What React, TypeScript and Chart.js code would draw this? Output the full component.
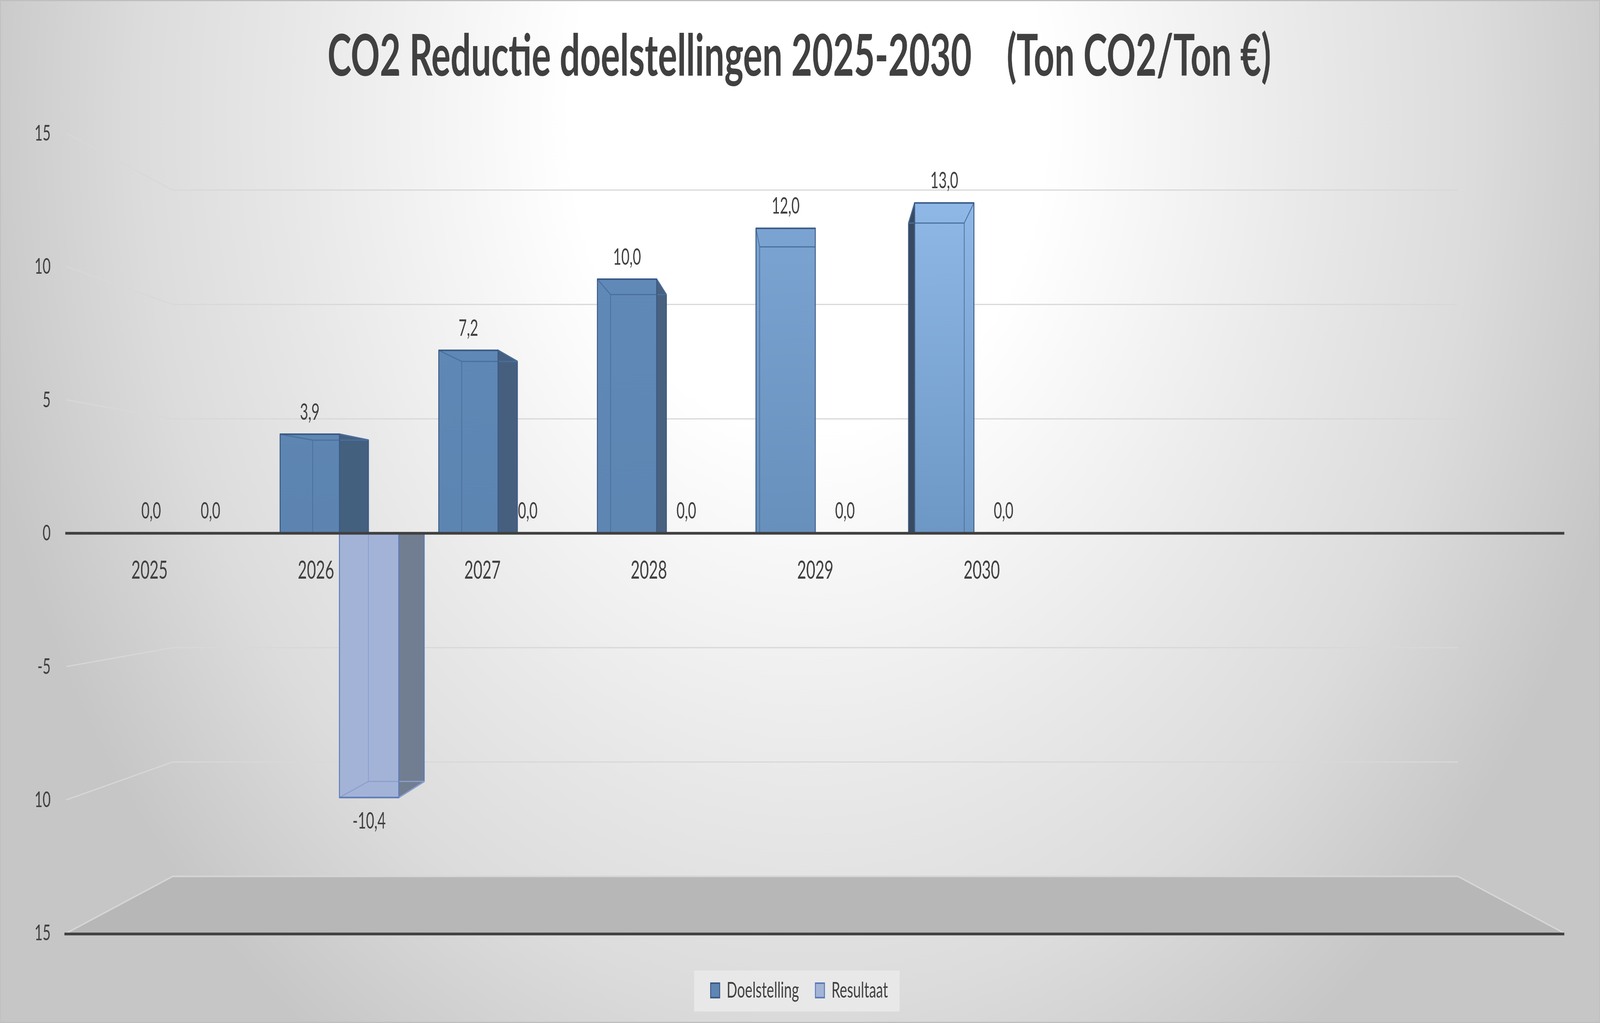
import React, { useEffect, useRef } from 'react';
import { Chart, registerables } from 'chart.js';

Chart.register(...registerables);

// ---------- data ----------
const categories = ['2025', '2026', '2027', '2028', '2029', '2030', '', '', ''];
const doelstelling = [0.0, 3.9, 7.2, 10.0, 12.0, 13.0, null, null, null];
const resultaat = [0.0, -10.4, 0.0, 0.0, 0.0, 0.0, null, null, null];
const seriesNames = ['Doelstelling', 'Resultaat'];
const yMin = -15;
const yMax = 15;
const yStep = 5;
const titleText = 'CO2 Reductie doelstellingen 2025-2030    (Ton CO2/Ton €)';

// ---------- styles ----------
const DESIGN_W = 6539;
const DESIGN_H = 2620;
const doelTop = ['#5e86b3', '#5e86b3', '#5f88b6', '#6189b8', '#7ba4d2', '#8fb8e6', '#8fb8e6', '#8fb8e6', '#8fb8e6'];
const doelBottom = ['#5d84b1', '#5d84b1', '#5d85b2', '#5e86b3', '#6890bd', '#6d97c5', '#6d97c5', '#6d97c5', '#6d97c5'];
const doelSide = ['#44607f', '#44607f', '#465f7e', '#48617f', '#3f5470', '#3a4a5e', '#3a4a5e', '#3a4a5e', '#3a4a5e'];
const doelBorder = '#3a5a86';
const doelInner = '#4b6f9d';
const resFill = '#a3b3d7';
const resSide = '#717e91';
const resBorder = '#5b7bb9';
const resInner = '#8ba0cd';
const textColor = '#404040';

const K_FRONT = 0.047;
const K_BACK = 0.105;
const K_WALL = 0.142;

function vanishing(chart: any) {
  const a = chart.chartArea;
  return { vx: (a.left + a.right) / 2, vy: chart.scales.y.getPixelForValue(0) };
}
function proj(x: number, y: number, k: number, v: any) {
  return [x + k * (v.vx - x), y + k * (v.vy - y)];
}

const backgroundPlugin = {
  id: 'bgAndLegendBox',
  beforeDraw(chart: any) {
    const ctx = chart.ctx;
    const W = chart.width;
    const H = chart.height;
    ctx.save();
    // radial background
    ctx.fillStyle = '#c6c6c6';
    ctx.fillRect(0, 0, W, H);
    ctx.save();
    ctx.translate(W * 0.505, H * 0.115);
    ctx.scale(1, 2900 / 3500);
    const r = W * 0.535;
    const g = ctx.createRadialGradient(0, 0, 0, 0, 0, r);
    g.addColorStop(0, '#ffffff');
    g.addColorStop(0.28, '#ffffff');
    g.addColorStop(0.6, '#e8e8e8');
    g.addColorStop(0.78, '#dcdcdc');
    g.addColorStop(1, '#c6c6c6');
    ctx.fillStyle = g;
    ctx.fillRect(-W, -H * 2, W * 2, H * 4);
    ctx.restore();
    // chart border
    ctx.strokeStyle = '#bfbfbf';
    ctx.lineWidth = 6;
    ctx.strokeRect(0, 0, W, H);
    // legend background box
    const lg = chart.legend;
    const hb = lg && lg.legendHitBoxes;
    if (hb && hb.length) {
      const first = hb[0];
      const last = hb[hb.length - 1];
      const cy = first.top + first.height / 2;
      ctx.fillStyle = '#e8e8e8';
      const left = first.left - 67;
      const right = last.left + last.width + 48;
      ctx.fillRect(left, cy - 51, right - left, 105);
    }
    ctx.restore();
  },
};

const wallsPlugin = {
  id: 'walls',
  beforeDatasetsDraw(chart: any) {
    const a = chart.chartArea;
    const ys = chart.scales.y;
    const v = vanishing(chart);
    const ctx = chart.ctx;
    ctx.save();
    // floor
    const yF = ys.getPixelForValue(yMin);
    const fl = proj(a.left, yF, K_WALL, v);
    const fr = proj(a.right, yF, K_WALL, v);
    ctx.fillStyle = '#b7b7b7';
    ctx.beginPath();
    ctx.moveTo(a.left, yF);
    ctx.lineTo(a.right, yF);
    ctx.lineTo(fr[0], fr[1]);
    ctx.lineTo(fl[0], fl[1]);
    ctx.closePath();
    ctx.fill();
    ctx.strokeStyle = '#d6d6d6';
    ctx.lineWidth = 4;
    ctx.beginPath();
    ctx.moveTo(a.left, yF);
    ctx.lineTo(fl[0], fl[1]);
    ctx.lineTo(fr[0], fr[1]);
    ctx.lineTo(a.right, yF);
    ctx.stroke();
    // grid lines (side wall + back wall)
    ctx.strokeStyle = '#d8d8d8';
    ctx.lineWidth = 3;
    ys.ticks.forEach((t: any) => {
      if (t.value === 0 || t.value === yMin) return;
      const y0 = ys.getPixelForValue(t.value);
      const b = proj(a.left, y0, K_WALL, v);
      const e = proj(a.right, y0, K_WALL, v);
      ctx.beginPath();
      ctx.moveTo(a.left, y0);
      ctx.lineTo(b[0], b[1]);
      ctx.lineTo(e[0], b[1]);
      ctx.stroke();
    });
    ctx.restore();
  },
  beforeDatasetDraw() {
    return false;
  },
  afterDatasetsDraw(chart: any) {
    const a = chart.chartArea;
    const ys = chart.scales.y;
    const v = vanishing(chart);
    const ctx = chart.ctx;
    ctx.save();
    ctx.lineJoin = 'round';
    chart.data.datasets.forEach((ds: any, di: number) => {
      const meta = chart.getDatasetMeta(di);
      meta.data.forEach((el: any, i: number) => {
        const val = ds.data[i];
        if (val === null || val === undefined || val === 0) return;
        const p = el.getProps(['x', 'y', 'base', 'width'], true);
        const L = p.x - p.width / 2;
        const R = p.x + p.width / 2;
        const fL = proj(L, p.y, K_FRONT, v);
        const fR = proj(R, p.y, K_FRONT, v);
        const fLb = proj(L, p.base, K_FRONT, v);
        const fRb = proj(R, p.base, K_FRONT, v);
        const bL = proj(L, p.y, K_BACK, v);
        const bR = proj(R, p.y, K_BACK, v);
        const bLb = proj(L, p.base, K_BACK, v);
        const bRb = proj(R, p.base, K_BACK, v);
        const isDoel = di === 0;
        const border = isDoel ? doelBorder : resBorder;
        const side = isDoel ? doelSide[i] : resSide;
        const inner = isDoel ? doelInner : resInner;
        const sideRight = p.x < v.vx;
        // side face
        ctx.beginPath();
        if (sideRight) {
          ctx.moveTo(fR[0], fR[1]);
          ctx.lineTo(bR[0], bR[1]);
          ctx.lineTo(bRb[0], bRb[1]);
          ctx.lineTo(fRb[0], fRb[1]);
        } else {
          ctx.moveTo(fL[0], fL[1]);
          ctx.lineTo(bL[0], bL[1]);
          ctx.lineTo(bLb[0], bLb[1]);
          ctx.lineTo(fLb[0], fLb[1]);
        }
        ctx.closePath();
        ctx.fillStyle = side;
        ctx.fill();
        ctx.strokeStyle = border;
        ctx.lineWidth = 4;
        ctx.stroke();
        // front face
        const top = Math.min(fL[1], fLb[1]);
        const bot = Math.max(fL[1], fLb[1]);
        if (isDoel) {
          const g = ctx.createLinearGradient(0, fLb[1], 0, fL[1]);
          g.addColorStop(0, doelBottom[i]);
          g.addColorStop(1, doelTop[i]);
          ctx.fillStyle = g;
        } else {
          ctx.fillStyle = resFill;
        }
        ctx.fillRect(fL[0], top, fR[0] - fL[0], bot - top);
        // hidden edges seen through
        ctx.strokeStyle = inner;
        ctx.lineWidth = 3;
        ctx.beginPath();
        ctx.moveTo(fL[0], fL[1]);
        ctx.lineTo(bL[0], bL[1]);
        ctx.lineTo(bR[0], bR[1]);
        ctx.lineTo(fR[0], fR[1]);
        if (sideRight) {
          ctx.moveTo(bL[0], bL[1]);
          ctx.lineTo(bLb[0], bLb[1]);
        } else {
          ctx.moveTo(bR[0], bR[1]);
          ctx.lineTo(bRb[0], bRb[1]);
        }
        ctx.stroke();
        // front border
        ctx.strokeStyle = border;
        ctx.lineWidth = 4;
        ctx.strokeRect(fL[0], top, fR[0] - fL[0], bot - top);
      });
    });
    // zero line
    const y0 = ys.getPixelForValue(0);
    ctx.strokeStyle = textColor;
    ctx.lineWidth = 7;
    ctx.beginPath();
    ctx.moveTo(a.left - 4, y0);
    ctx.lineTo(a.right, y0);
    ctx.stroke();
    // bottom line
    const yB = ys.getPixelForValue(yMin);
    ctx.beginPath();
    ctx.moveTo(a.left - 8, yB + 2);
    ctx.lineTo(a.right, yB + 2);
    ctx.stroke();
    // data labels
    ctx.fillStyle = textColor;
    ctx.font = '58px Lato';
    ctx.textAlign = 'center';
    ctx.textBaseline = 'middle';
    chart.data.datasets.forEach((ds: any, di: number) => {
      const meta = chart.getDatasetMeta(di);
      meta.data.forEach((el: any, i: number) => {
        const val = ds.data[i];
        if (val === null || val === undefined) return;
        const p = el.getProps(['x', 'y'], true);
        const q = proj(p.x, p.y, K_FRONT, v);
        const dy = val < 0 ? 61 : -56;
        ctx.fillText(val.toFixed(1).replace('.', ','), q[0], q[1] + dy);
      });
    });
    ctx.restore();
  },
};

export default function App() {
  const ref = useRef<HTMLCanvasElement>(null);
  useEffect(() => {
    if (!ref.current) return;
    Chart.defaults.font.family = 'Lato';
    const chart = new Chart(ref.current, {
      type: 'bar',
      data: {
        labels: categories,
        datasets: [
          {
            label: seriesNames[0],
            data: doelstelling,
            backgroundColor: '#5f86b3',
            borderColor: doelBorder,
            borderWidth: 4,
          },
          {
            label: seriesNames[1],
            data: resultaat,
            backgroundColor: '#a3b4d6',
            borderColor: resBorder,
            borderWidth: 4,
          },
        ],
      },
      options: {
        animation: false,
        responsive: false,
        devicePixelRatio: 1,
        events: [],
        categoryPercentage: 0.748,
        barPercentage: 1,
        layout: { padding: { left: 140, right: 146, top: 0, bottom: 45 } },
        scales: {
          x: {
            position: { y: 0 },
            grid: { display: false, drawTicks: false },
            border: { display: false },
            ticks: {
              padding: 57,
              color: textColor,
              font: { size: 64 },
              maxRotation: 0,
              autoSkip: false,
            },
          },
          y: {
            min: yMin,
            max: yMax,
            grid: { display: false, drawTicks: false },
            border: { display: false },
            ticks: { stepSize: yStep, padding: 64, color: textColor, font: { size: 57 } },
            afterFit: (s: any) => {
              s.width = 131;
            },
          },
        },
        plugins: {
          tooltip: { enabled: false },
          title: {
            display: true,
            text: titleText,
            color: textColor,
            font: { family: 'Lato', size: 147, weight: 'bold', lineHeight: 1.2 },
            padding: { top: 58, bottom: 107 },
          },
          legend: {
            position: 'bottom',
            title: { display: true, text: ' ', font: { size: 10, lineHeight: 1.2 }, padding: { top: 20, bottom: 19 } },
            labels: {
              boxWidth: 37,
              boxHeight: 37,
              padding: 67,
              color: textColor,
              font: { size: 57 },
            },
          },
        },
      },
      plugins: [backgroundPlugin, wallsPlugin],
    } as any);
    return () => chart.destroy();
  }, []);
  return (
    <div style={{ position: 'fixed', left: 0, top: 0, width: '100vw', height: '100vh', background: '#d8d8d8' }}>
      <canvas
        ref={ref}
        width={DESIGN_W}
        height={DESIGN_H}
        style={{ display: 'block', width: '100vw', height: '100vh' }}
      />
    </div>
  );
}
